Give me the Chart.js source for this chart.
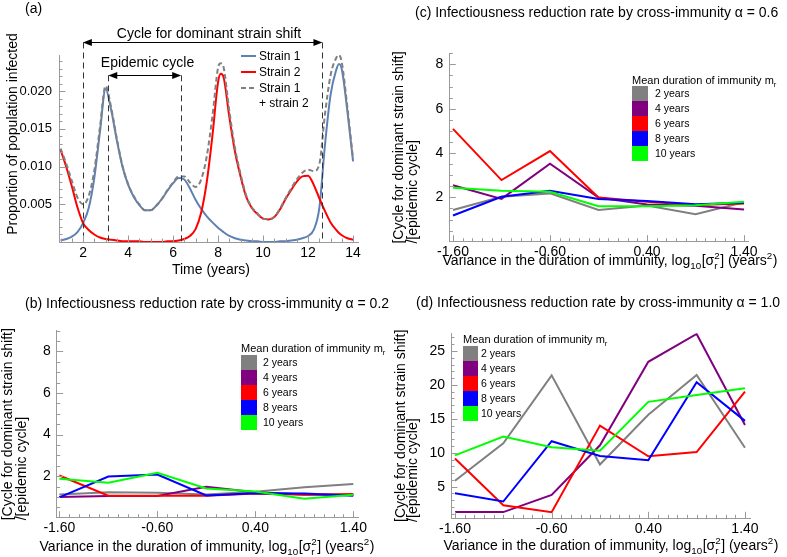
<!DOCTYPE html>
<html><head><meta charset="utf-8">
<script src="https://cdn.jsdelivr.net/npm/chart.js@4"></script>
<style>
html,body{margin:0;padding:0;background:#fff;}
#wrap{position:relative;width:787px;height:557px;overflow:hidden;}
canvas{position:absolute;left:0;top:0;}
</style></head><body><div id="wrap">
<canvas id="cA" width="787" height="557"></canvas>
<canvas id="cB" width="787" height="557"></canvas>
<canvas id="cC" width="787" height="557"></canvas>
<canvas id="cD" width="787" height="557"></canvas>
</div>
<script>
// ---------------- DATA ----------------
// Panel (a): time series
const timeYears = [1,1.25,1.5,1.75,2,2.25,2.5,2.75,3,3.25,3.5,3.75,4,4.25,4.5,4.75,5,5.25,5.5,5.75,6,6.25,6.5,6.75,7,7.25,7.5,7.75,8,8.125,8.25,8.5,8.75,9,9.25,9.5,9.75,10,10.25,10.5,10.75,11,11.25,11.5,11.75,12,12.25,12.5,12.75,13,13.25,13.375,13.5,13.75,14];
const strain1 = [0.0002,0.0004,0.0007,0.0013,0.0025,0.0045,0.0085,0.0146,0.0203,0.0175,0.0135,0.0100,0.0076,0.0060,0.0049,0.0042,0.0042,0.0048,0.0057,0.0068,0.0078,0.0085,0.0083,0.0071,0.0056,0.0044,0.0034,0.0026,0.0019,0.0016,0.0013,0.0008,0.0005,0.0003,0.0002,0.0001,0.0001,0.0000,0.0000,0.0000,0.0001,0.0001,0.0002,0.0003,0.0005,0.0008,0.0016,0.0045,0.0128,0.0195,0.0228,0.0236,0.0229,0.0173,0.0107];
const strain2 = [0.0122,0.0100,0.0074,0.0046,0.0025,0.0016,0.0010,0.0006,0.0004,0.0003,0.0002,0.0001,0.0001,0.0001,0.0001,0.0000,0.0000,0.0000,0.0000,0.0001,0.0001,0.0002,0.0004,0.0008,0.0017,0.0039,0.0080,0.0141,0.0212,0.0223,0.0218,0.0166,0.0120,0.0087,0.0060,0.0045,0.0037,0.0031,0.0030,0.0033,0.0043,0.0057,0.0069,0.0080,0.0087,0.0088,0.0076,0.0058,0.0041,0.0026,0.0016,0.0012,0.0009,0.0005,0.0003];
const strainTotal = [0.0124,0.0104,0.0081,0.0059,0.0050,0.0061,0.0095,0.0152,0.0207,0.0178,0.0137,0.0101,0.0077,0.0061,0.0050,0.0042,0.0042,0.0048,0.0057,0.0069,0.0079,0.0087,0.0087,0.0079,0.0073,0.0083,0.0114,0.0167,0.0231,0.0237,0.0231,0.0174,0.0125,0.0090,0.0062,0.0046,0.0038,0.0031,0.0030,0.0033,0.0044,0.0058,0.0071,0.0083,0.0092,0.0096,0.0094,0.0103,0.0169,0.0221,0.0244,0.0248,0.0238,0.0178,0.0110];
const cycleMarkers = [1.99, 12.64];   // dominant strain shift cycle
const epidemicMarkers = [3.12, 6.36]; // epidemic cycle
const timeTicks = [2,4,6,8,10,12,14];
const propTicks = [0.005,0.010,0.015,0.020];

// Panels (b)-(d)
const logVariance = [-1.6,-1.1,-0.6,-0.1,0.4,0.9,1.4];
const varianceTicks = [-1.6,-0.6,0.4,1.4];
const durationLabels = ['2 years','4 years','6 years','8 years','10 years'];
// alpha = 0.2
const b2y  = [1.12,1.23,1.20,1.12,1.25,1.47,1.62];
const b4y  = [1.00,1.04,1.04,1.49,1.23,1.12,1.09];
const b6y  = [2.03,1.06,1.06,1.06,1.17,1.10,1.14];
const b8y  = [0.98,1.98,2.08,1.07,1.18,1.17,1.06];
const b10y = [1.87,1.68,2.16,1.41,1.26,0.91,1.10];
// alpha = 0.6
const c2y  = [1.43,2.03,2.18,1.43,1.63,1.24,1.78];
const c4y  = [2.55,1.93,3.52,1.99,1.68,1.62,1.45];
const c6y  = [5.09,2.78,4.09,1.99,1.80,1.66,1.72];
const c8y  = [1.18,2.03,2.30,1.93,1.84,1.69,1.76];
const c10y = [2.43,2.30,2.25,1.60,1.60,1.64,1.80];
// alpha = 1.0
const d2y  = [5.88,11.4,21.4,8.26,15.6,21.45,10.74];
const d4y  = [1.25,1.25,3.78,11.1,23.4,27.5,14.1];
const d6y  = [9.14,2.27,1.25,14.0,9.48,10.1,19.0];
const d8y  = [4.03,2.81,11.7,9.53,8.90,20.4,14.7];
const d10y = [9.62,12.4,10.8,10.3,17.5,18.5,19.5];
const ratioTicksBC = [2,4,6,8];
const ratioTicksD = [5,10,15,20,25];

// ---------------- STYLE ----------------
const FAM = "'Liberation Sans', Arial, Helvetica, sans-serif";
const AXIS_COLOR = '#9a9a9a';
const durationColors = ['#808080','#800080','#ff0000','#0000ff','#00ff00'];
const Y_W = 50, X_H = 30;
Chart.defaults.font.family = FAM;
Chart.defaults.color = '#000';

function fnt(sz){ return sz + 'px ' + FAM; }
function richWidth(ctx, segs, sz){
  let w = 0;
  for (const s of segs){
    if (typeof s === 'string'){ ctx.font = fnt(sz); w += ctx.measureText(s).width; }
    else { ctx.font = fnt(sz*0.7); w += Math.max(s.sub?ctx.measureText(s.sub).width:0, s.sup?ctx.measureText(s.sup).width:0) + 0.5; }
  }
  return w;
}
function drawRich(ctx, segs, x, y, sz, align, rot){
  ctx.save(); ctx.translate(x,y); if (rot) ctx.rotate(rot);
  const w = richWidth(ctx, segs, sz);
  let cx = align === 'center' ? -w/2 : (align === 'right' ? -w : 0);
  const base = sz*0.36;
  ctx.textBaseline = 'alphabetic'; ctx.textAlign = 'left'; ctx.fillStyle = '#000';
  for (const s of segs){
    if (typeof s === 'string'){ ctx.font = fnt(sz); ctx.fillText(s, cx, base); cx += ctx.measureText(s).width; }
    else {
      ctx.font = fnt(sz*0.7); let sw = 0;
      if (s.sub){ ctx.fillText(s.sub, cx, base + sz*0.28); sw = Math.max(sw, ctx.measureText(s.sub).width); }
      if (s.sup){ ctx.fillText(s.sup, cx, base - sz*0.42); sw = Math.max(sw, ctx.measureText(s.sup).width); }
      cx += sw + 0.5;
    }
  }
  ctx.restore();
  return w;
}

function range(a, b, step){ const out=[]; for (let v=a; v<=b+1e-9; v+=step) out.push(Math.round(v*1e6)/1e6); return out; }

// plugins
const inwardTicks = {
  id: 'inwardTicks',
  afterDraw(chart, args, o){
    const ctx = chart.ctx, xs = chart.scales.x, ys = chart.scales.y, a = chart.chartArea;
    ctx.save(); ctx.strokeStyle = AXIS_COLOR; ctx.lineWidth = 1;
    ctx.beginPath();
    for (const v of o.xMinor){ const p = Math.round(xs.getPixelForValue(v))+0.5; ctx.moveTo(p, a.bottom); ctx.lineTo(p, a.bottom-3.5); }
    for (const v of o.xMajor){ const p = Math.round(xs.getPixelForValue(v))+0.5; ctx.moveTo(p, a.bottom); ctx.lineTo(p, a.bottom-6.5); }
    for (const v of o.yMinor){ const p = Math.round(ys.getPixelForValue(v))+0.5; ctx.moveTo(a.left, p); ctx.lineTo(a.left+3.5, p); }
    for (const v of o.yMajor){ const p = Math.round(ys.getPixelForValue(v))+0.5; ctx.moveTo(a.left, p); ctx.lineTo(a.left+6.5, p); }
    ctx.stroke(); ctx.restore();
  }
};
const panelText = {
  id: 'panelText',
  afterDraw(chart, args, o){
    const ctx = chart.ctx;
    for (const it of o.items){
      if (it.lines){
        // multi-line rotated block, lines left-aligned, block centred on axis
        let wmax = 0; for (const l of it.lines) wmax = Math.max(wmax, richWidth(ctx, [l], it.size));
        const a = chart.chartArea; const mid = (a.top + a.bottom)/2;
        it.lines.forEach((l, i) => drawRich(ctx, [l], it.xs[i], mid + wmax/2, it.size, 'left', -Math.PI/2));
      } else {
        drawRich(ctx, it.segs, it.x, it.y, it.size, it.align || 'left', it.rot || 0);
      }
    }
  }
};
const squareLegend = {
  id: 'squareLegend',
  afterDraw(chart, args, o){
    const ctx = chart.ctx;
    drawRich(ctx, ['Mean duration of immunity m', {sub:'r'}], o.x, o.titleY, 11, 'left', 0);
    durationLabels.forEach((lab, i) => {
      ctx.fillStyle = durationColors[i];
      ctx.fillRect(o.x, o.top + i*o.h, o.w, o.h);
      drawRich(ctx, [lab], o.labelX, o.top + i*o.h + o.h/2, 10.5, 'left', 0);
    });
  }
};
const cycleAnnot = {
  id: 'cycleAnnot',
  afterDatasetsDraw(chart){
    const ctx = chart.ctx, xs = chart.scales.x, ys = chart.scales.y, a = chart.chartArea;
    ctx.save();
    ctx.strokeStyle = '#333'; ctx.lineWidth = 1; ctx.setLineDash([6,4]);
    const yCyc = ys.getPixelForValue(0.02646), yEpi = ys.getPixelForValue(0.0221);
    ctx.beginPath();
    for (const t of cycleMarkers){ const p = Math.round(xs.getPixelForValue(t))+0.5; ctx.moveTo(p, yCyc); ctx.lineTo(p, a.bottom); }
    for (const t of epidemicMarkers){ const p = Math.round(xs.getPixelForValue(t))+0.5; ctx.moveTo(p, yEpi); ctx.lineTo(p, a.bottom); }
    ctx.stroke();
    ctx.setLineDash([]);
    function arrow(x1, x2, y){
      y = Math.round(y)+0.5;
      ctx.strokeStyle = '#000'; ctx.fillStyle = '#000'; ctx.lineWidth = 1.2;
      ctx.beginPath(); ctx.moveTo(x1+6, y); ctx.lineTo(x2-6, y); ctx.stroke();
      ctx.beginPath(); ctx.moveTo(x1, y); ctx.lineTo(x1+9, y-3.5); ctx.lineTo(x1+9, y+3.5); ctx.closePath(); ctx.fill();
      ctx.beginPath(); ctx.moveTo(x2, y); ctx.lineTo(x2-9, y-3.5); ctx.lineTo(x2-9, y+3.5); ctx.closePath(); ctx.fill();
    }
    arrow(xs.getPixelForValue(cycleMarkers[0]), xs.getPixelForValue(cycleMarkers[1]), yCyc);
    arrow(xs.getPixelForValue(epidemicMarkers[0]), xs.getPixelForValue(epidemicMarkers[1]), yEpi);
    ctx.restore();
    drawRich(ctx, ['Cycle for dominant strain shift'], 209, 33, 14, 'center', 0);
    drawRich(ctx, ['Epidemic cycle'], 147.5, 62, 14, 'center', 0);
    // legend
    const lg = [{c:'#5E81B5', d:[], t:'Strain 1', y:56},{c:'#ff0000', d:[], t:'Strain 2', y:72},{c:'#808080', d:[5,3], t:'Strain 1', y:88}];
    for (const e of lg){
      ctx.save(); ctx.strokeStyle = e.c; ctx.lineWidth = 2; ctx.setLineDash(e.d);
      ctx.beginPath(); ctx.moveTo(241, e.y); ctx.lineTo(256, e.y); ctx.stroke(); ctx.restore();
      drawRich(ctx, [e.t], 259, e.y, 12, 'left', 0);
    }
    drawRich(ctx, ['+ strain 2'], 259, 103, 12, 'left', 0);
  }
};

function axis(min, max, tickVals, fmt, size, pad, isX){
  return {
    type: 'linear', min, max, bounds: 'data',
    afterBuildTicks: s => { s.ticks = tickVals.map(v => ({value: v})); },
    afterFit: s => { if (isX) s.height = X_H; else s.width = Y_W; },
    ticks: { callback: v => fmt(v), font: {size}, color: '#000', padding: pad, maxRotation: 0, autoSkip: false },
    grid: { display: true, drawOnChartArea: false, drawTicks: false },
    border: { display: true, color: AXIS_COLOR, width: 1 }
  };
}
function pad(area){ return {left: area.left - Y_W, top: area.top, right: 787 - area.right, bottom: 557 - area.bottom - X_H}; }
function ds(xv, yv, color, extra){ return Object.assign({data: xv.map((x,i)=>({x, y:yv[i]})), borderColor: color, backgroundColor: color, borderWidth: 2, pointRadius: 0, fill: false, tension: 0}, extra||{}); }
function baseOpts(area, xAxis, yAxis, plug){
  return { responsive: false, animation: false, events: [], layout: {padding: pad(area)},
    scales: {x: xAxis, y: yAxis},
    plugins: Object.assign({legend: {display: false}, tooltip: {enabled: false}}, plug) };
}
const xTitleSegs = ['Variance in the duration of immunity, log', {sub:'10'}, '[\u03c3', {sub:'r', sup:'2'}, '] (years', {sup:'2'}, ')'];
const yTitleLines = ['[Cycle for dominant strain shift]', '/[epidemic cycle]'];

// Panel (a)
new Chart(document.getElementById('cA'), {
  type: 'line',
  data: { datasets: [
    ds(timeYears, strainTotal, '#808080', {borderDash:[5,3], cubicInterpolationMode:'monotone', order:0}),
    ds(timeYears, strain2, '#ff0000', {cubicInterpolationMode:'monotone', order:1}),
    ds(timeYears, strain1, '#5E81B5', {cubicInterpolationMode:'monotone', order:2})
  ]},
  options: baseOpts({left:59, top:55, right:358, bottom:242},
    axis(0.93, 14.22, timeTicks, v => String(v), 14, 3, true),
    axis(0, 0.0248, propTicks, v => v.toFixed(3), 13, 7, false),
    { inwardTicks: {xMajor: timeTicks, xMinor: range(1, 14, 0.5), yMajor: propTicks, yMinor: range(0.001, 0.024, 0.001)},
      panelText: {items: [
        {segs:['(a)'], x:25, y:8, size:14},
        {segs:['Time (years)'], x:211, y:269, size:14, align:'center'},
        {segs:['Proportion of population infected'], x:12, y:134, size:14, align:'center', rot:-Math.PI/2}
      ]} }),
  plugins: [inwardTicks, panelText, cycleAnnot]
});

function ratioPanel(id, area, ys5, ymin, ymax, yT, yMinorStep, title, titleXY, xTitleXY, yLineXs, leg){
  new Chart(document.getElementById(id), {
    type: 'line',
    data: { datasets: ys5.map((yv, i) => ds(logVariance, yv, durationColors[i], {order: 5 - i})) },
    options: baseOpts(area,
      axis(area.xmin, area.xmax, varianceTicks, v => v.toFixed(2), 14, 2, true),
      axis(ymin, ymax, yT, v => String(v), 14, 6, false),
      { inwardTicks: {xMajor: varianceTicks, xMinor: range(-1.6, 1.4, 0.1), yMajor: yT, yMinor: range(yMinorStep, ymax, yMinorStep)},
        panelText: {items: [
          {segs:[title], x:titleXY[0], y:titleXY[1], size:14},
          {segs:xTitleSegs, x:xTitleXY[0], y:xTitleXY[1], size:14, align:'center'},
          {lines: yTitleLines, xs: yLineXs, size:14}
        ]},
        squareLegend: leg }),
    plugins: [inwardTicks, panelText, squareLegend]
  });
}

ratioPanel('cB', {left:56.7, top:330.7, right:358, bottom:517.7, xmin:-1.627, xmax:1.448},
  [b2y,b4y,b6y,b8y,b10y], 0, 9.0, ratioTicksBC, 0.5,
  '(b) Infectiousness reduction rate by cross-immunity \u03b1 = 0.2', [25, 303], [207, 546], [7, 21],
  {x:241, titleY:348, top:355, w:16, h:15, labelX:263});
ratioPanel('cC', {left:449.3, top:53.3, right:748.3, bottom:241.7, xmin:-1.638, xmax:1.444},
  [c2y,c4y,c6y,c8y,c10y], 0, 8.5, ratioTicksBC, 0.5,
  '(c) Infectiousness reduction rate by cross-immunity \u03b1 = 0.6', [415, 12], [610, 260], [398, 412],
  {x:632, titleY:80, top:86, w:16, h:15, labelX:655});
ratioPanel('cD', {left:451, top:333.3, right:750, bottom:518.3, xmin:-1.641, xmax:1.452},
  [d2y,d4y,d6y,d8y,d10y], 0.34, 27.6, ratioTicksD, 1,
  '(d) Infectiousness reduction rate by cross-immunity \u03b1 = 1.0', [416, 302], [611, 545], [400, 412],
  {x:463, titleY:339, top:346, w:15, h:15, labelX:481});
</script>
</body></html>
